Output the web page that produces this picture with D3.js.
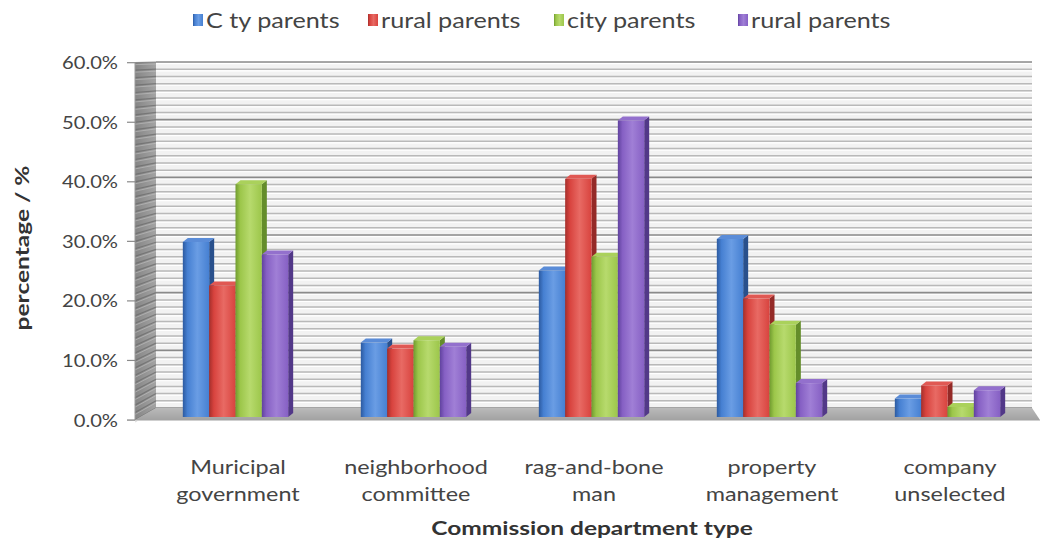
<!DOCTYPE html>
<html>
<head>
<meta charset="utf-8">
<script src="https://cdn.jsdelivr.net/npm/d3@7"></script>
<style>
  html, body { margin: 0; background: #ffffff; }
  svg { display: block; }
</style>
</head>
<body>
<svg id="chart" width="1043" height="544"></svg>
<script>
// ---- data ----
const categories = ["Muricipal government", "neighborhood committee", "rag-and-bone man", "property management", "company unselected"];
const categoryLines = [["Muricipal", "government"], ["neighborhood", "committee"], ["rag-and-bone", "man"], ["property", "management"], ["company", "unselected"]];
const seriesNames = ["C ty parents", "rural parents", "city parents", "rural parents"];
const cityParents1 = [30.4, 13.5, 25.6, 30.9, 4.1];
const ruralParents1 = [23.1, 12.5, 41.0, 20.9, 6.3];
const cityParents2 = [40.1, 13.9, 27.9, 16.5, 2.7];
const ruralParents2 = [28.3, 12.8, 50.8, 6.7, 5.5];
const seriesValues = [cityParents1, ruralParents1, cityParents2, ruralParents2];
const yTicks = [0, 10, 20, 30, 40, 50, 60];
const yMinorStep = 1.25;
const xTitle = "Commission department type";
const yTitle = "percentage / %";

// ---- styling ----
const palette = [
  { base: "#4680d2", dark: "#2c5aa0", light: "#6a9de4", side: "#29508c", top: "#5a8cd8" },
  { base: "#d8433e", dark: "#a52f2b", light: "#e86a64", side: "#942a27", top: "#e05853" },
  { base: "#9cc64a", dark: "#709b2f", light: "#b7da6d", side: "#648d2a", top: "#aad15b" },
  { base: "#8660c4", dark: "#60429e", light: "#a07fd6", side: "#523888", top: "#9370cd" }
];
const FONT = "Lato, 'Open Sans', 'Liberation Sans', sans-serif";

const svg = d3.select("#chart");
const defs = svg.append("defs");

// text drawn with a horizontal stretch factor sx around its anchor point
function stretchedText(parent, x, y, str, size, sx, anchor, weight, fill) {
  return parent.append("text")
    .attr("transform", `translate(${x},${y}) scale(${sx},1)`)
    .attr("text-anchor", anchor)
    .attr("font-family", FONT)
    .attr("font-size", size)
    .attr("font-weight", weight || "normal")
    .attr("fill", fill || "#404040")
    .text(str);
}

// ---- scales ----
const yFront = d3.scaleLinear().domain([0, 60]).range([420, 62.7]);
const yBack = d3.scaleLinear().domain([0, 60]).range([408, 62]);
const x0 = d3.scaleBand().domain(categories).range([149, 1039]).paddingInner(0.38).paddingOuter(0.19);
const depthX = 5, depthY = -4;
const x1 = d3.scaleBand().domain(d3.range(seriesNames.length)).range([0, x0.bandwidth() - depthX]);

// 3D frame geometry
const wallFrontX = 135, wallBackX = 156, wallRightX = 1032, floorRightX = 1040;

// ---- gradients ----
palette.forEach((c, i) => {
  const g = defs.append("linearGradient").attr("id", "front" + i).attr("x1", 0).attr("x2", 1).attr("y1", 0).attr("y2", 0);
  g.append("stop").attr("offset", "0%").attr("stop-color", c.dark);
  g.append("stop").attr("offset", "18%").attr("stop-color", c.base);
  g.append("stop").attr("offset", "55%").attr("stop-color", c.light);
  g.append("stop").attr("offset", "100%").attr("stop-color", c.base);
});
const wallGrad = defs.append("linearGradient").attr("id", "sideWall").attr("x1", 0).attr("x2", 1).attr("y1", 0).attr("y2", 0);
wallGrad.append("stop").attr("offset", "0%").attr("stop-color", "#858585");
wallGrad.append("stop").attr("offset", "100%").attr("stop-color", "#a4a4a4");
const floorGrad = defs.append("linearGradient").attr("id", "floor").attr("x1", 0).attr("x2", 0).attr("y1", 0).attr("y2", 1);
floorGrad.append("stop").attr("offset", "0%").attr("stop-color", "#bababa");
floorGrad.append("stop").attr("offset", "100%").attr("stop-color", "#a2a2a2");

const frame = svg.append("g");

// back wall
frame.append("rect")
  .attr("x", wallBackX).attr("y", yBack(60))
  .attr("width", wallRightX - wallBackX).attr("height", yBack(0) - yBack(60))
  .attr("fill", "#f2f2f2");

const gridVals = d3.range(0, 60 + 0.001, yMinorStep);
frame.selectAll("line.grid-hi").data(gridVals).join("line")
  .attr("class", "grid-hi")
  .attr("x1", wallBackX).attr("x2", wallRightX)
  .attr("y1", d => yBack(d) + 1.6).attr("y2", d => yBack(d) + 1.6)
  .attr("stroke", "#ffffff").attr("stroke-width", 1.2);
frame.selectAll("line.grid").data(gridVals).join("line")
  .attr("class", "grid")
  .attr("x1", wallBackX).attr("x2", wallRightX)
  .attr("y1", d => yBack(d)).attr("y2", d => yBack(d))
  .attr("stroke", d => d % 10 === 0 ? "#8a8a8a" : "#b9b9b9")
  .attr("stroke-width", d => d % 10 === 0 ? 1.7 : 1.5);

// left side wall
frame.append("polygon")
  .attr("points", [[wallFrontX, yFront(60)], [wallBackX, yBack(60)], [wallBackX, yBack(0)], [wallFrontX, yFront(0)]].join(" "))
  .attr("fill", "url(#sideWall)");
frame.selectAll("line.wall-stripe").data(gridVals).join("line")
  .attr("class", "wall-stripe")
  .attr("x1", wallFrontX).attr("x2", wallBackX)
  .attr("y1", d => yFront(d)).attr("y2", d => yBack(d))
  .attr("stroke", "#6a6a6a").attr("stroke-width", 1.2).attr("opacity", 0.7);
frame.selectAll("line.wall-stripe-hi").data(gridVals).join("line")
  .attr("class", "wall-stripe-hi")
  .attr("x1", wallFrontX).attr("x2", wallBackX)
  .attr("y1", d => yFront(d) + 2).attr("y2", d => yBack(d) + 2)
  .attr("stroke", "#c2c2c2").attr("stroke-width", 1).attr("opacity", 0.6);

// floor
frame.append("polygon")
  .attr("points", [[wallFrontX, yFront(0)], [floorRightX, yFront(0)], [wallRightX, yBack(0)], [wallBackX, yBack(0)]].join(" "))
  .attr("fill", "url(#floor)");
frame.append("line")
  .attr("x1", 127).attr("x2", floorRightX)
  .attr("y1", yFront(0) + 0.5).attr("y2", yFront(0) + 0.5)
  .attr("stroke", "#cfcfcf").attr("stroke-width", 1);

// value axis ticks and labels
const axisG = svg.append("g");
axisG.append("line")
  .attr("x1", wallFrontX).attr("x2", wallFrontX)
  .attr("y1", yFront(60)).attr("y2", yFront(0))
  .attr("stroke", "#9a9a9a").attr("stroke-width", 1);
axisG.selectAll("line.tick").data(yTicks).join("line")
  .attr("class", "tick")
  .attr("x1", 127).attr("x2", wallFrontX)
  .attr("y1", d => yFront(d)).attr("y2", d => yFront(d))
  .attr("stroke", "#8a8a8a").attr("stroke-width", 1.2);
yTicks.forEach(t => {
  stretchedText(axisG, 118, yFront(t) + 6.5, d3.format(".1f")(t) + "%", 18, 1.12, "end", "normal", "#444");
});

// ---- bars ----
const barsG = svg.append("g");
seriesValues.forEach((vals, j) => {
  const c = palette[j];
  const g = barsG.append("g");
  const rows = vals.map((v, i) => {
    const bx = x0(categories[i]) + x1(j);
    const bw = x1.bandwidth();
    const base = yFront(0) - 3;
    const top = yFront(v) + 3;
    return { bx, bw, base, top };
  });
  g.selectAll("polygon.side").data(rows).join("polygon")
    .attr("class", "side")
    .attr("points", d => [[d.bx + d.bw, d.top], [d.bx + d.bw + depthX, d.top + depthY], [d.bx + d.bw + depthX, d.base + depthY], [d.bx + d.bw, d.base]].join(" "))
    .attr("fill", c.side);
  g.selectAll("polygon.top").data(rows).join("polygon")
    .attr("class", "top")
    .attr("points", d => [[d.bx, d.top], [d.bx + depthX, d.top + depthY], [d.bx + d.bw + depthX, d.top + depthY], [d.bx + d.bw, d.top]].join(" "))
    .attr("fill", c.top);
  g.selectAll("rect.front").data(rows).join("rect")
    .attr("class", "front")
    .attr("x", d => d.bx).attr("y", d => d.top)
    .attr("width", d => d.bw).attr("height", d => d.base - d.top)
    .attr("fill", `url(#front${j})`);
});

// ---- category labels ----
const catG = svg.append("g");
categories.forEach((cat, i) => {
  const cx = x0(cat) + x0.bandwidth() / 2;
  stretchedText(catG, cx, 474, categoryLines[i][0], 20, 1.17, "middle", "normal", "#444");
  stretchedText(catG, cx, 501, categoryLines[i][1], 20, 1.17, "middle", "normal", "#444");
});

// ---- axis titles ----
stretchedText(svg, 592, 535, xTitle, 19, 1.29, "middle", "bold", "#333");
svg.append("text")
  .attr("transform", `translate(29,248) rotate(-90) scale(1.29,1)`)
  .attr("text-anchor", "middle")
  .attr("font-family", FONT).attr("font-size", 19).attr("font-weight", "bold")
  .attr("fill", "#333")
  .text(yTitle);

// ---- legend ----
const legendX = [193, 368, 554, 738];
const legendG = svg.append("g");
seriesNames.forEach((name, j) => {
  legendG.append("rect")
    .attr("x", legendX[j]).attr("y", 14).attr("width", 10).attr("height", 12)
    .attr("fill", `url(#front${j})`);
  stretchedText(legendG, legendX[j] + 13, 28, name, 21, 1.2, "start", "normal", "#444");
});
</script>
</body>
</html>
